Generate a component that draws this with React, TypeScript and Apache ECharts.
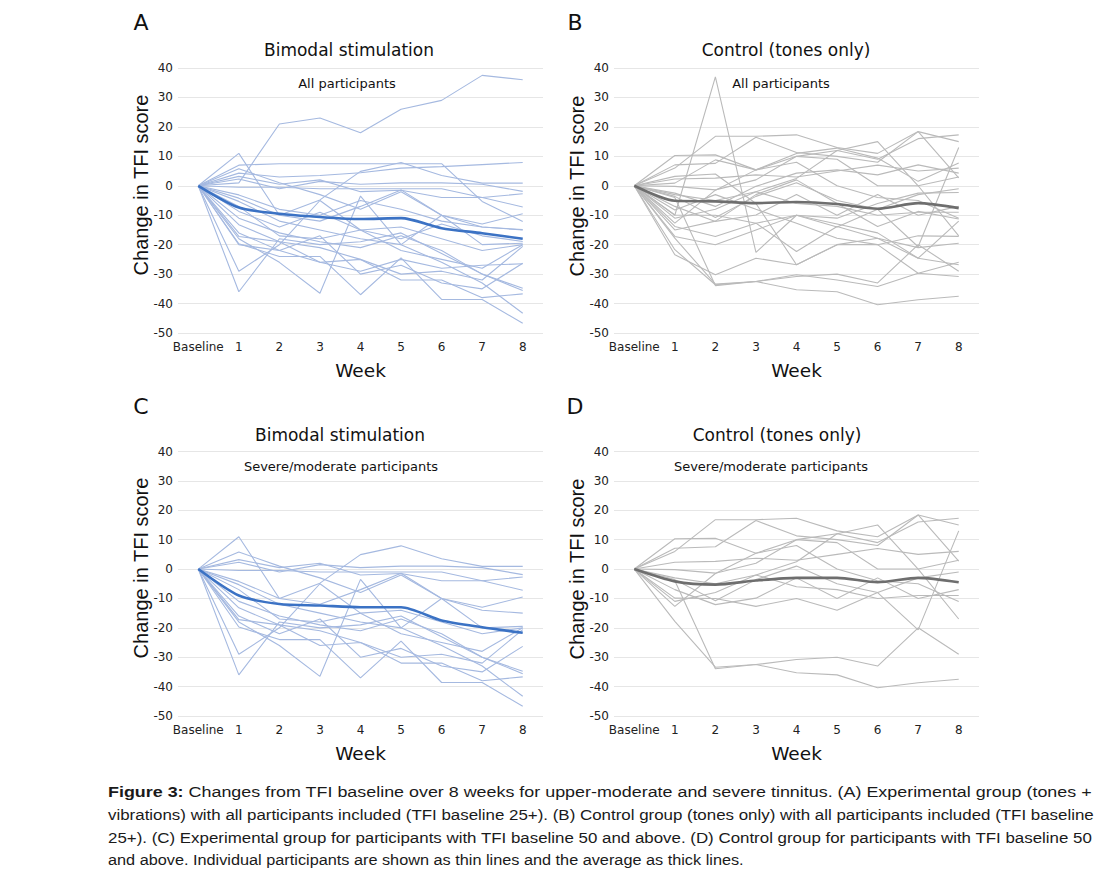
import React, { useEffect, useRef } from "react";
import * as echarts from "echarts";

const weekLabels = ["Baseline", "1", "2", "3", "4", "5", "6", "7", "8"];
const yMin = -50;
const yMax = 40;
const yStep = 10;

// Bimodal stimulation, severe/moderate participants (panel C, also in A)
const bimodalSevere: number[][] = [
  [0, 11, -10, -4.8, 4.9, 7.9, 3.5, 0.9, 0.9],
  [0, -36, -18, -20, -19, -16, -23, -30, -34.8],
  [0, -29, -20, -5, -15, -22, -25, -28, -20],
  [0, -18, -26, -36.5, -3.5, -20, -26, -33, -43.3],
  [0, -19.7, -24, -24, -37, -24.5, -38.6, -38.6, -46.7],
  [0, 5.8, 1, -3, -8, -2, -10, -14, -15],
  [0, 3.2, 0.5, 2, -2, -1.5, -4, -4, -2.7],
  [0, 2.3, -1, 1.5, 0.5, 1, 1, 0.5, -1.9],
  [0, -0.5, -0.5, -1, -1, -1, -1, -4, -7.2],
  [0, -4.2, -10, -12, -7, -1.4, -10, -13, -9.5],
  [0, -5.3, -12, -15, -18, -20, -10, -20, -19.5],
  [0, -7, -17, -18, -15, -14, -18, -22, -20],
  [0, -11, -16, -19, -21, -17, -22, -30, -35.6],
  [0, -13.2, -19, -21, -25, -30, -29, -32, -20.6],
  [0, -16, -22, -17, -30, -27, -33, -35, -26.3],
  [0, -17.2, -19, -26, -25, -32, -32, -38, -36.7],
];
// Bimodal stimulation, participants only in the "all" group (panel A)
const bimodalModerateOnly: number[][] = [
  [0, 1, 21, 23, 18, 26, 29, 37.5, 36],
  [0, 7, 7.5, 7.5, 7.5, 7.5, 7.5, -5.3, -12.1],
  [0, 4.3, 3, 3.5, 4.4, 6, 6.5, 7.2, 7.9],
  [0, -3.1, -8, -10, -5, -8, -12, -14, -14.9],
  [0, -8.7, -14, -9, -15, -18, -13, -17, -18.9],
  [0, -20, -22, -26, -29, -25, -28, -27, -26.5],
];
const bimodalMeanAll = [0, -7.4, -9.5, -10.6, -11.3, -11, -14.4, -16.1, -18];
const bimodalMeanSevere = [0, -9, -11.9, -12.4, -13, -13, -17.5, -19.8, -21.7];

// Control (tones only), severe/moderate participants (panel D, also in B)
const controlSevere: number[][] = [
  [0, 6, 16.8, 16.8, 17.3, 13, 11, 18.4, 2.7],
  [0, 10.3, 10.5, 5.4, 10, 12, 9, 16, 17.3],
  [0, 7.1, 7.6, 16.5, 11.3, 10, 8, 18.4, 15],
  [0, 2.3, 2.6, 3.7, 3, 5, 7, 5, 6],
  [0, -0.2, -1.4, 2, 10, 9, 0, 0, 3],
  [0, -3.6, -10.8, -3.6, 1, -5, -8, -3, -1],
  [0, -7, -12.1, -9.9, -3, -10, -3, -10, -7],
  [0, -9.9, -10, -12.7, -10, -14, -8, -20.7, 13],
  [0, -11, -8, -2, -6, -7, -10, -9, -9],
  [0, -12.7, -1.5, 5.4, 8, 0, -4, -5, -11],
  [0, -17.8, -33.4, -32.5, -30.8, -30, -33, -20, -29],
  [0, -4, -33.9, -32.5, -35.3, -36, -40.4, -38.7, -37.5],
  [0, -3, -5, -2, 2.5, 12, 15, 0, -17],
];
// Control, participants only in the "all" group (panel B)
const controlModerateOnly: number[][] = [
  [0, -10, 37, -22.6, -10, -13, -16, -24.6, -26.8],
  [0, -23.4, -30.2, -24.6, -26.8, -20, -20, -29.7, -30.8],
  [0, -21.7, -33.6, -32.5, -30.2, -32, -34.2, -29.7, -26],
  [0, -13.8, -17.2, -12.7, -22.3, -13.8, -17.8, -21, -19.5],
  [0, -2.5, -7, -0.2, 4.3, 5.4, 3.7, 7.1, 4.3],
  [0, 0.9, 8.8, 5.4, 11, 12.8, 9.4, 1.5, 7.7],
  [0, -8.2, -3, -8, -12.7, -17.8, -20, -17, -17.2],
  [0, -15, -12, -3, 2, -6, -13.8, -8.7, -11.3],
  [0, -17.2, -20, -15, -10, -11, -6, -2.5, -2.3],
  [0, 3.2, 4, -6, -26.8, -20, -17.8, -24.6, -12],
];
const controlMeanAll = [0, -5.1, -5.3, -5.9, -5.5, -6.2, -7.8, -5.9, -7.6];
const controlMeanSevere = [0, -4.2, -5.3, -3.9, -3, -3, -4.5, -3, -4.5];

const panelLetters = ["A", "B", "C", "D"];
const panelTitles = ["Bimodal stimulation", "Control (tones only)", "Bimodal stimulation", "Control (tones only)"];
const panelSubtitles = ["All participants", "All participants", "Severe/moderate participants", "Severe/moderate participants"];
const yAxisName = "Change in TFI score";
const xAxisName = "Week";

const captionBold = "Figure 3:";
const captionLines = [
  " Changes from TFI baseline over 8 weeks for upper-moderate and severe tinnitus. (A) Experimental group (tones +",
  "vibrations) with all participants included (TFI baseline 25+). (B) Control group (tones only) with all participants included (TFI baseline",
  "25+). (C) Experimental group for participants with TFI baseline 50 and above. (D) Control group for participants with TFI baseline 50",
  "and above. Individual participants are shown as thin lines and the average as thick lines.",
];

const BLUE_THIN = "#a5b9e0";
const BLUE_THICK = "#3b72c4";
const GRAY_THIN = "#bababa";
const GRAY_THICK = "#6e6e6e";

const layout = [
  { left: 178, top: 68, height: 265, letter: [141, 22], title: [349, 50], sub: [347, 83], yname: [141, 185] },
  { left: 614, top: 68, height: 265, letter: [575, 22], title: [786, 50], sub: [781, 83], yname: [577, 186] },
  { left: 178, top: 451.5, height: 264.5, letter: [141, 406], title: [340, 435], sub: [341, 466], yname: [141, 568] },
  { left: 614, top: 451.5, height: 264.5, letter: [575, 406], title: [777, 435], sub: [771, 466], yname: [577, 569] },
];
const GRID_W = 365;

export default function App() {
  const ref = useRef<HTMLDivElement>(null);
  useEffect(() => {
    if (!ref.current) return;
    const chart = echarts.init(ref.current, null, { renderer: "svg" });

    const panels = [
      { lines: [...bimodalSevere, ...bimodalModerateOnly], mean: bimodalMeanAll, thin: BLUE_THIN, thick: BLUE_THICK },
      { lines: [...controlSevere, ...controlModerateOnly], mean: controlMeanAll, thin: GRAY_THIN, thick: GRAY_THICK },
      { lines: bimodalSevere, mean: bimodalMeanSevere, thin: BLUE_THIN, thick: BLUE_THICK },
      { lines: controlSevere, mean: controlMeanSevere, thin: GRAY_THIN, thick: GRAY_THICK },
    ];

    const grids: any[] = [];
    const xAxes: any[] = [];
    const yAxes: any[] = [];
    const series: any[] = [];
    const graphics: any[] = [];

    const centered = {
      align: "center",
      verticalAlign: "middle",
      textAlign: "center",
      textVerticalAlign: "middle",
    };

    panels.forEach((p, i) => {
      const L = layout[i];
      grids.push({ left: L.left, top: L.top, width: GRID_W, height: L.height });
      xAxes.push({
        type: "category",
        gridIndex: i,
        data: weekLabels,
        boundaryGap: true,
        axisLine: { show: false },
        axisTick: { show: false },
        splitLine: { show: false },
        axisLabel: { fontFamily: "DejaVu Sans", fontSize: 12, color: "#222", margin: 8, interval: 0 },
        name: xAxisName,
        nameLocation: "middle",
        nameGap: 28,
        nameTextStyle: { fontFamily: "DejaVu Sans", fontSize: 18.5, color: "#111" },
      });
      yAxes.push({
        type: "value",
        gridIndex: i,
        min: yMin,
        max: yMax,
        interval: yStep,
        axisLine: { show: false },
        axisTick: { show: false },
        splitLine: { show: true, lineStyle: { color: "#e6e6e6", width: 1 } },
        axisLabel: { fontFamily: "DejaVu Sans", fontSize: 12, color: "#222", margin: 5 },
      });
      p.lines.forEach((d) => {
        series.push({
          type: "line",
          xAxisIndex: i,
          yAxisIndex: i,
          data: d,
          symbol: "none",
          silent: true,
          z: 2,
          lineStyle: { width: 1.1, color: p.thin },
          itemStyle: { color: p.thin },
        });
      });
      series.push({
        type: "line",
        xAxisIndex: i,
        yAxisIndex: i,
        data: p.mean,
        symbol: "none",
        silent: true,
        smooth: 0.25,
        z: 3,
        lineStyle: { width: 2.6, color: p.thick },
        itemStyle: { color: p.thick },
      });

      graphics.push({
        type: "text",
        x: L.yname[0],
        y: L.yname[1],
        rotation: Math.PI / 2,
        style: { ...centered, text: yAxisName, fontFamily: "Liberation Sans", fontSize: 20, fill: "#111" },
      });
      graphics.push({
        type: "text",
        x: L.letter[0],
        y: L.letter[1],
        style: { ...centered, text: panelLetters[i], fontFamily: "DejaVu Sans", fontSize: 22, fill: "#111" },
      });
      graphics.push({
        type: "text",
        x: L.title[0],
        y: L.title[1],
        style: { ...centered, text: panelTitles[i], fontFamily: "DejaVu Sans", fontSize: 17, fill: "#111" },
      });
      graphics.push({
        type: "text",
        x: L.sub[0],
        y: L.sub[1],
        z: 10,
        style: { ...centered, text: panelSubtitles[i], fontFamily: "DejaVu Sans", fontSize: 13, fill: "#111" },
      });
    });

    // Caption, justified by horizontal scaling of each line
    const capSize = 15;
    const capFamily = '"Liberation Sans", Arial, sans-serif';
    const ctx = document.createElement("canvas").getContext("2d");
    const measure = (t: string, bold: boolean) => {
      if (!ctx) return t.length * capSize * 0.48;
      ctx.font = `${bold ? "bold " : ""}${capSize}px ${capFamily}`;
      return ctx.measureText(t).width;
    };
    const capX = 108;
    const capTargets = [985, 987, 985, 636];
    const capYs = [792, 815, 838, 860];
    captionLines.forEach((line, k) => {
      const wb = k === 0 ? measure(captionBold, true) : 0;
      const wr = measure(line, false);
      const s = capTargets[k] / (wb + wr);
      const common = {
        fontFamily: capFamily,
        fontSize: capSize,
        fill: "#1a1a1a",
        align: "left",
        verticalAlign: "middle",
        textAlign: "left",
        textVerticalAlign: "middle",
      };
      if (k === 0) {
        graphics.push({
          type: "text",
          x: capX,
          y: capYs[k],
          scaleX: s,
          style: { ...common, text: captionBold, fontWeight: "bold" },
        });
      }
      graphics.push({
        type: "text",
        x: capX + wb * s,
        y: capYs[k],
        scaleX: s,
        style: { ...common, text: line },
      });
    });

    chart.setOption({
      animation: false,
      backgroundColor: "#ffffff",
      grid: grids,
      xAxis: xAxes,
      yAxis: yAxes,
      series,
      graphic: graphics,
    });
    return () => chart.dispose();
  }, []);
  return (
    <div
      ref={ref}
      style={{ position: "absolute", left: 0, top: 0, width: 1096, height: 880, background: "#fff" }}
    />
  );
}
